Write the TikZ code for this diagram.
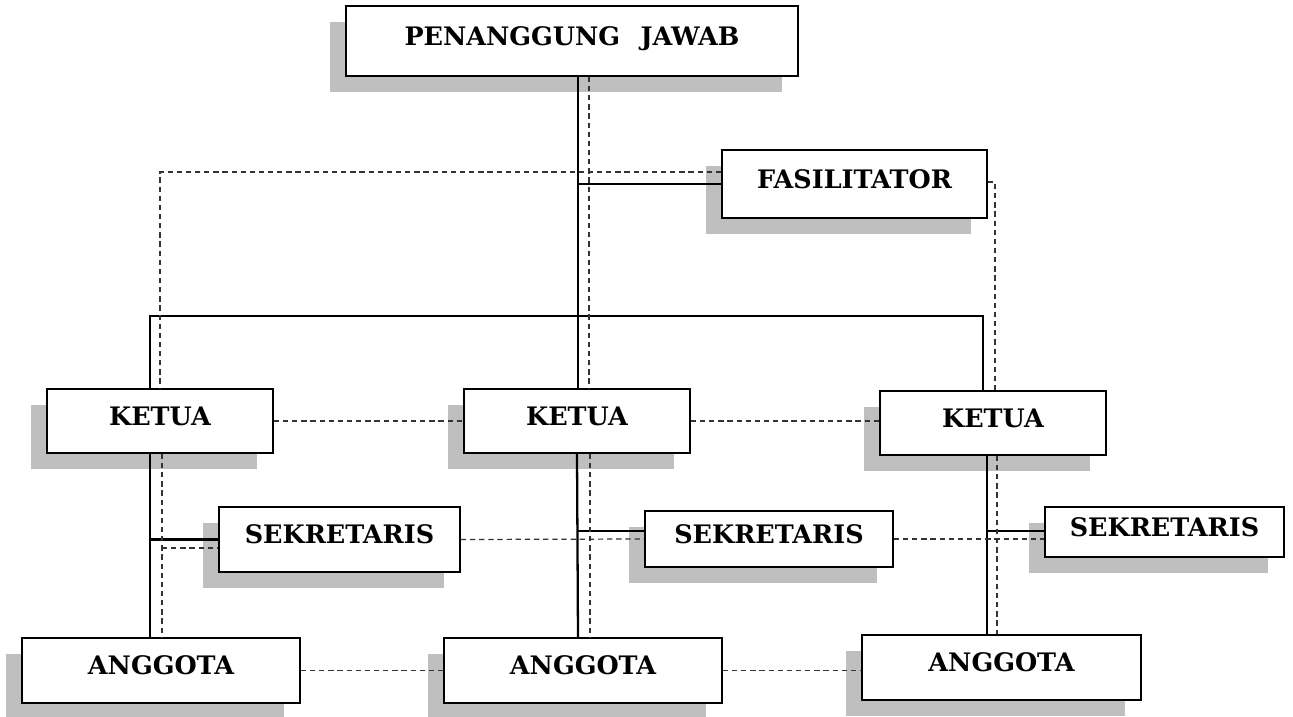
\documentclass[tikz,border=0pt]{standalone}
\usepackage{fontspec}
\setmainfont{DejaVu Serif}
\usetikzlibrary{shadows}

\begin{document}
\begin{tikzpicture}[
    x=0.2mm, y=-0.2mm,
    unit/.style={rectangle, draw, line width=1pt, fill=white, inner sep=0pt, minimum height=13mm, font=\fontsize{14.5}{16}\selectfont\bfseries, text height=10.5pt, text depth=5.7pt, drop shadow={shadow xshift=-3.2mm, shadow yshift=-3.2mm, fill=black!25, opacity=1}},
    tree_line/.style={line width=1.3pt},
    dash_line/.style={dash pattern=on 3pt off 2.2pt, line width=0.7pt, draw=black!80}
]
    \useasboundingbox (0,0) rectangle (1293,717);
    % Top
    \node[unit, minimum width=90.4mm, minimum height=14mm] (pj) at (572,41) {PENANGGUNG\hspace{0.8em}JAWAB};
    \node[unit, minimum width=53mm, minimum height=13.6mm] (fas) at (854.5,184) {FASILITATOR};
    % Ketua
    \node[unit, minimum width=45.2mm, minimum height=12.8mm] (ketA) at (160,421) {KETUA};
    \node[unit, minimum width=45.2mm, minimum height=12.8mm] (ketB) at (577,421) {KETUA};
    \node[unit, minimum width=45.2mm, minimum height=12.8mm] (ketC) at (993,423) {KETUA};
    % Sekretaris
    \node[unit, minimum width=48.2mm, minimum height=13mm] (sekA) at (339.5,539.5) {SEKRETARIS};
    \node[unit, minimum width=49.6mm, minimum height=11.2mm] (sekB) at (769,539) {SEKRETARIS};
    \node[unit, minimum width=47.8mm, minimum height=10mm] (sekC) at (1164.5,532) {SEKRETARIS};
    % Anggota
    \node[unit, minimum width=55.6mm] (angA) at (161,670.5) {ANGGOTA};
    \node[unit, minimum width=55.6mm] (angB) at (583,670.5) {ANGGOTA};
    \node[unit, minimum width=55.8mm] (angC) at (1001.5,667.5) {ANGGOTA};
    % Solid lines
    \coordinate (busL) at (150,316);
    \coordinate (busR) at (983,316);
    \draw[tree_line] (pj.south -| 578,0) -- (ketB.north -| 578,0);
    \draw[tree_line] (fas.west) -- (fas.west -| 578,0);
    \draw[tree_line] (ketA.north -| busL) -- (busL) -- (busR) -- (ketC.north -| busR);
    \draw[tree_line] (ketA.south -| busL) -- (angA.north -| busL);
    \draw[tree_line] (sekA.west -| busL) -- (sekA.west);
    \draw[tree_line] (ketB.south -| 577,0) -- (angB.north -| 578,0);
    \draw[tree_line] (578,531) -- (sekB.west |- 0,531);
    \draw[tree_line] (ketC.south -| 987,0) -- (angC.north -| 987,0);
    \draw[tree_line] (987,531) -- (sekC.west |- 0,531);
    % Dashed lines
    \coordinate (dl) at (160,172);
    \coordinate (dr) at (995,182);
    \draw[dash_line] (dl -| fas.west) -- (dl) -- (ketA.north -| dl);
    \draw[dash_line] (ketA.south -| 162,0) -- (angA.north -| 162,0);
    \draw[dash_line] (162,548) -- (sekA.west |- 0,548);
    \draw[dash_line] (pj.south -| 589,0) -- (ketB.north -| 589,0);
    \draw[dash_line] (ketB.south -| 590,0) -- (angB.north -| 590,0);
    \draw[dash_line] (dr -| fas.east) -- (dr) -- (ketC.north -| dr);
    \draw[dash_line] (ketC.south -| 997,0) -- (angC.north -| 997,0);
    \draw[dash_line] (ketA.east) -- (ketB.west);
    \draw[dash_line] (ketB.east) -- (ketC.west |- ketB.east);
    \draw[dash_line] (sekA.east) -- (sekB.west);
    \draw[dash_line] (sekB.east) -- (sekC.west |- sekB.east);
    \draw[dash_line] (angA.east) -- (angB.west);
    \draw[dash_line] (angB.east) -- (angC.west |- angB.east);
\end{tikzpicture}
\end{document}
